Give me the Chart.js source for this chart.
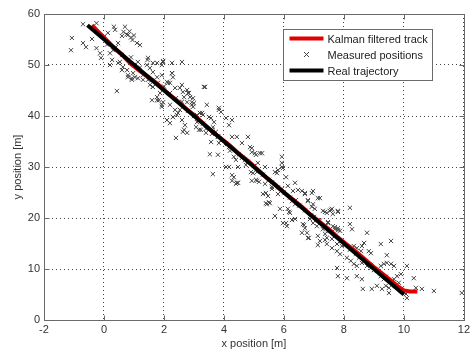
<!DOCTYPE html>
<html>
<head>
<meta charset="utf-8">
<script src="https://cdn.jsdelivr.net/npm/chart.js@4.4.0/dist/chart.umd.min.js"></script>
<style>
  html, body { margin: 0; padding: 0; background: #fff; }
  #wrap { width: 473px; height: 352px; }
</style>
</head>
<body>
<div id="wrap"><canvas id="c" width="473" height="352"></canvas></div>
<script>
const xTicks = [-2, 0, 2, 4, 6, 8, 10, 12];
const yTicks = [0, 10, 20, 30, 40, 50, 60];

// real trajectory (straight line)
const realX = [-0.55, 10.0];
const realY = [57.8, 5.0];

// kalman filtered track
const kalmanX = [-0.4, -0.2, 0.0, 0.3, 0.6, 0.9, 1.2, 1.5, 1.8, 2.1, 2.4, 2.7, 3.0, 3.3, 3.6, 3.9, 4.2, 4.5, 4.8, 5.1,
  5.4, 5.7, 6.0, 6.3, 6.6, 6.9, 7.2, 7.5, 7.8, 8.1, 8.4, 8.7, 9.0, 9.3, 9.6, 9.8, 10.0, 10.2, 10.45];
const kalmanY = [57.8, 56.6, 55.4, 53.6, 52.0, 50.2, 48.8, 47.6, 46.2, 44.6, 43.2, 41.6, 40.2, 38.6, 37.0, 35.6, 34.2, 32.6, 31.2, 29.6,
  28.0, 26.6, 25.0, 23.6, 22.2, 20.6, 19.2, 17.8, 16.2, 14.8, 13.4, 11.9, 10.4, 9.0, 7.6, 6.6, 5.8, 5.6, 5.6];

// measured positions [x, y]
const measured = [
  [-1.07,55.3],[-1.1,52.9],[-0.7,58.0],[-0.7,54.3],[-0.6,53.5],[-0.25,58.2],[-0.4,55.1],[-0.25,53.3],[-0.13,52.3],[-0.1,51.4],
  [0.2,52.3],[0.13,56.3],[0.33,57.5],[0.37,56.9],[0.7,57.5],[0.8,55.9],[0.9,55.4],[1.0,55.8],[0.95,54.9],[1.1,54.3],
  [1.2,53.9],[0.47,54.3],[0.3,52.9],[0.27,51.0],[0.2,50.0],[0.53,50.6],[0.43,44.9],[0.63,49.6],[0.77,49.0],[0.8,47.6],
  [0.93,47.4],[0.97,48.4],[1.45,51.0],[1.43,50.0],[1.53,49.4],[1.63,48.6],[1.77,47.6],[1.53,46.1],[1.63,45.7],[1.3,47.1],
  [1.13,47.4],[1.97,50.8],[1.93,50.0],[1.77,50.4],[2.27,48.4],[2.3,47.6],[2.2,46.5],[2.1,46.7],[1.97,45.5],[1.87,44.5],
  [1.77,43.7],[1.6,43.1],[1.83,43.1],[1.97,42.7],[2.2,42.2],[1.93,41.8],[2.6,50.6],[2.27,50.4],[2.6,46.1],[2.53,45.5],
  [2.77,45.1],[2.8,44.5],[2.87,43.7],[2.97,43.5],[2.93,42.7],[3.0,42.5],[2.97,41.8],[3.33,45.7],[3.43,42.2],[3.2,40.6],
  [3.3,40.2],[2.53,41.2],[2.43,40.2],[2.3,39.8],[2.1,39.2],[2.2,38.6],[2.6,39.2],[2.7,38.2],[2.4,35.7],[2.63,36.9],
  [2.77,36.7],[3.07,37.8],[3.17,37.3],[3.5,39.8],[3.57,39.6],[3.83,41.6],[3.9,40.8],[4.07,39.6],[4.27,39.2],[4.17,38.2],
  [3.63,37.8],[3.73,36.9],[3.8,35.9],[3.83,34.7],[3.57,34.9],[3.53,32.5],[3.8,32.4],[4.07,34.7],[4.17,33.9],[4.27,35.9],
  [4.07,30.0],[4.17,30.0],[3.63,28.6],[4.27,28.4],[4.33,32.0],
  [4.43,35.9],[4.8,35.9],[4.87,33.9],[4.93,32.9],[5.03,32.7],[5.2,32.7],[5.93,32.0],[5.93,30.8],[5.97,29.8],[5.8,29.4],
  [5.7,29.0],[4.7,31.4],[4.47,30.0],[5.13,30.8],[5.37,30.0],[4.97,28.8],[4.27,27.3],[4.4,26.7],
  [4.47,26.9],[4.93,27.3],[5.1,27.3],[5.37,26.7],[5.6,25.7],[5.8,24.7],[5.43,22.7],[5.53,22.9],[5.3,24.7],[5.93,25.7],
  [6.13,26.3],[6.3,25.3],[6.6,25.3],[6.7,24.7],[6.93,24.9],[6.97,25.3],[7.2,23.9],[6.27,23.3],[6.37,22.7],[6.53,22.4],
  [6.8,23.3],[6.97,22.7],[7.03,21.8],[6.13,21.8],[6.2,21.0],[5.97,19.0],[6.1,18.4],[6.63,18.8],[6.7,18.0],[6.6,17.1],
  [6.8,16.1],[6.97,19.0],[7.1,18.4],[7.13,16.5],[7.2,15.5],[7.3,21.4],[7.43,21.0],[7.53,21.4],[7.6,21.8],[7.63,20.8],
  [7.8,21.4],[8.2,22.0],[7.47,19.0],[7.63,18.4],[7.7,17.8],[7.8,18.0],[7.87,17.5],[8.2,18.8],[8.27,17.8],[7.3,17.8],
  [7.37,16.9],[7.43,16.1],[7.6,15.9],[7.6,14.1],[7.77,14.9],[7.77,13.5],[7.87,12.9],[7.93,14.5],[7.43,14.9],[8.33,14.5],
  [8.43,14.1],[8.57,13.5],[8.6,14.5],[8.67,15.1],[8.77,17.1],[8.83,13.5],[8.9,13.1],[9.23,14.9],[9.57,15.5],[9.43,12.7],
  [8.1,12.2],[8.23,11.6],[8.33,11.0],[8.43,10.6],[7.77,10.2],[7.8,8.6],[8.1,8.2],[8.43,8.6],[8.6,8.0],[8.63,6.1],
  [8.93,6.1],[8.6,11.2],[8.77,10.6],[8.9,10.2],[9.1,9.6],[9.23,10.6],[9.33,11.0],[9.43,11.2],[9.57,11.0],[9.67,10.6],
  [9.23,8.6],[9.33,8.0],[9.1,6.7],[9.27,6.1],[9.4,6.7],[9.5,6.3],[9.5,5.3],[9.67,8.0],[9.77,8.6],[9.9,9.0],
  [9.83,7.3],[10.1,10.6],[10.33,8.2],[10.4,6.3],[10.1,4.3],[10.07,5.1],[10.6,6.1],[11.0,5.7],[11.93,5.3],[6.37,19.8],
  [6.87,19.8],[5.87,21.8],[5.7,20.4],[5.47,24.3],
  [0.0,55.5],[0.1,54.0],[0.4,53.5],[0.6,52.0],[0.9,51.5],[1.0,50.0],[1.2,49.5],[1.3,48.0],[1.6,47.0],[1.8,46.5],
  [2.0,45.8],[2.2,44.5],[2.4,43.5],[2.6,42.8],[2.8,41.0],[3.0,40.0],[3.1,38.8],[3.3,38.5],[3.4,37.5],[3.6,36.5],
  [3.8,36.0],[3.9,35.2],[4.1,34.5],[4.2,33.2],[4.5,32.5],[4.6,31.8],[4.8,31.0],[5.0,30.2],[5.1,29.0],[5.3,28.5],
  [5.5,27.5],[5.6,27.0],[5.8,26.0],[6.0,25.0],[6.2,24.0],[6.4,23.5],[6.5,22.5],[6.7,21.5],[6.9,20.5],[7.0,20.2],
  [7.2,19.5],[7.4,18.5],[7.5,17.5],[7.7,16.5],[7.9,15.5],[8.0,14.8],[8.2,13.8],[8.4,13.0],[8.5,12.2],[8.7,11.5],
  [8.9,10.8],[9.0,9.8],[9.2,9.2],[9.4,8.5],[9.6,7.5],[9.7,6.8],[9.9,5.8],
  [0.65,56.5],[0.75,56.0],[0.85,56.6],[0.6,55.7],[0.47,50.4],[0.6,49.0],[0.8,48.0],[0.93,47.1],[1.03,47.6],[1.13,50.6],
  [1.47,51.4],[1.63,50.4],[1.97,50.6],[1.47,47.1],[1.63,45.7],[1.93,48.0],[2.27,48.4],[2.13,46.5],[2.37,45.5],[2.63,44.7],
  [2.83,44.5],[2.67,43.7],[2.77,42.7],[2.93,42.2],[3.37,45.7],[1.77,43.1],[1.93,42.2],[2.37,41.2],[2.3,39.8],[2.47,40.6],
  [2.67,37.3],[2.1,39.2],[3.1,40.2],[3.27,40.6],[3.5,39.8],[3.67,38.8],[3.23,37.3],[3.4,36.7],[3.83,41.2],[3.6,37.3],
  [4.6,34.7],[4.93,33.7],[5.07,32.4],[5.27,32.7],[4.4,31.4],[4.07,30.0],[4.33,28.0],[4.43,26.9],[4.73,30.4],[4.9,29.0],
  [5.07,27.5],[5.17,27.1],[5.4,24.9],[5.5,23.1],[5.4,22.9],[5.93,30.0],[5.77,28.8],[6.07,28.0],[5.6,26.1],[6.37,26.9],
  [6.47,25.5],[6.7,24.9],[6.8,23.5],[7.13,23.9],[6.93,22.2],[6.17,21.2],[6.27,19.6],[6.07,19.0],[6.67,18.6],[6.77,17.1],
  [6.83,16.1],[7.13,19.6],[7.37,21.2],[7.57,21.6],[7.8,21.2],[7.47,19.2],[7.7,18.2],[7.8,17.6],[7.37,15.7],[7.13,14.7]
];

Chart.defaults.font.family = '"Liberation Sans", Arial, sans-serif';
Chart.defaults.font.size = 11;
Chart.defaults.color = '#333';

const toPts = (xs, ys) => xs.map((x, i) => ({ x: x, y: ys[i] }));

// matlab style box, inward ticks and the legend inside the axes
const matlabBox = {
  id: 'matlabBox',
  afterDraw(chart) {
    const { ctx, chartArea: a, scales: { x, y } } = chart;
    const L = Math.round(a.left) + 0.5, R = Math.round(a.right) + 0.5;
    const T = Math.round(a.top) + 0.5, B = Math.round(a.bottom) + 0.5;
    ctx.save();
    ctx.strokeStyle = '#6a6a6a';
    ctx.lineWidth = 1;
    ctx.beginPath();
    xTicks.forEach(v => {
      const px = Math.round(x.getPixelForValue(v)) + 0.5;
      ctx.moveTo(px, B); ctx.lineTo(px, B - 5);
      ctx.moveTo(px, T); ctx.lineTo(px, T + 5);
    });
    yTicks.forEach(v => {
      const py = Math.round(y.getPixelForValue(v)) + 0.5;
      ctx.moveTo(L, py); ctx.lineTo(L + 5, py);
      ctx.moveTo(R, py); ctx.lineTo(R - 5, py);
    });
    ctx.stroke();
    ctx.strokeRect(L, T, R - L, B - T);

    // legend
    const lx = Math.round(a.right) - 181 + 0.5, ly = Math.round(a.top) + 15 + 0.5;
    const lw = 149, lh = 51;
    ctx.fillStyle = '#fff';
    ctx.fillRect(lx, ly, lw, lh);
    ctx.strokeStyle = '#6a6a6a';
    ctx.strokeRect(lx, ly, lw, lh);
    ctx.font = '11px "Liberation Sans", Arial, sans-serif';
    ctx.textBaseline = 'middle';
    chart.data.datasets.forEach((ds, i) => {
      const ry = ly + 9 + i * 16;
      if (ds.showLine === false) {
        const cx = lx + 23, r = 2.5;
        ctx.strokeStyle = ds.borderColor;
        ctx.lineWidth = 1;
        ctx.beginPath();
        ctx.moveTo(cx - r, ry - r); ctx.lineTo(cx + r, ry + r);
        ctx.moveTo(cx - r, ry + r); ctx.lineTo(cx + r, ry - r);
        ctx.stroke();
      } else {
        ctx.strokeStyle = ds.borderColor;
        ctx.lineWidth = ds.borderWidth;
        ctx.beginPath();
        ctx.moveTo(lx + 6, ry); ctx.lineTo(lx + 40, ry);
        ctx.stroke();
      }
      ctx.fillStyle = '#222';
      ctx.fillText(ds.label, lx + 44, ry + 1);
    });
    ctx.restore();
  }
};

new Chart(document.getElementById('c'), {
  type: 'scatter',
  data: {
    datasets: [
      {
        label: 'Kalman filtered track',
        data: toPts(kalmanX, kalmanY),
        showLine: true,
        borderColor: '#e00000',
        borderWidth: 4,
        pointRadius: 0,
        order: 2
      },
      {
        label: 'Measured positions',
        data: measured.map(p => ({ x: p[0], y: p[1] })),
        showLine: false,
        pointStyle: 'crossRot',
        pointRadius: 3,
        borderColor: '#444',
        borderWidth: 1,
        order: 3
      },
      {
        label: 'Real trajectory',
        data: toPts(realX, realY),
        showLine: true,
        borderColor: '#000',
        borderWidth: 4,
        pointRadius: 0,
        order: 1
      }
    ]
  },
  options: {
    responsive: false,
    animation: false,
    layout: { padding: { top: 14, right: 7, left: 0, bottom: 0 } },
    plugins: { legend: { display: false }, tooltip: { enabled: false } },
    scales: {
      x: {
        type: 'linear',
        min: -2, max: 12,
        afterBuildTicks: s => { s.ticks = xTicks.map(v => ({ value: v })); },
        afterFit: s => { s.height = 32; },
        ticks: { padding: 3, color: '#333' },
        grid: { color: '#444', drawTicks: false },
        border: { display: false, dash: [1, 3] },
        title: { display: true, text: 'x position [m]', color: '#333', padding: { top: 0, bottom: 1 } }
      },
      y: {
        type: 'linear',
        min: 0, max: 60,
        afterBuildTicks: s => { s.ticks = yTicks.map(v => ({ value: v })); },
        afterFit: s => { s.width = 44; },
        ticks: { padding: 4, color: '#333' },
        grid: { color: '#444', drawTicks: false },
        border: { display: false, dash: [1, 3] },
        title: { display: true, text: 'y position [m]', color: '#333', padding: { top: 11, bottom: 0 } }
      }
    }
  },
  plugins: [matlabBox]
});
</script>
</body>
</html>
